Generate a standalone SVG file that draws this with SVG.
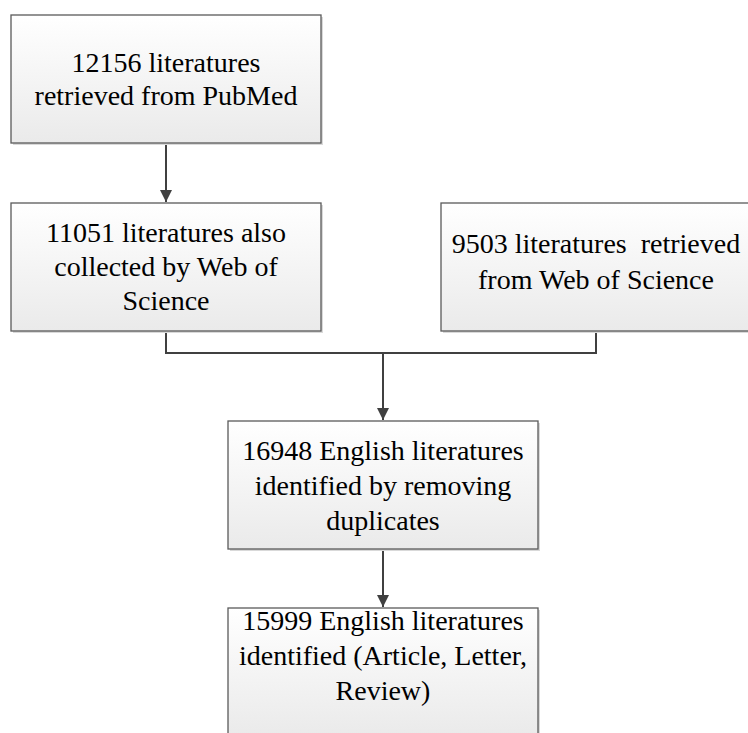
<svg xmlns="http://www.w3.org/2000/svg" width="748" height="733" viewBox="0 0 748 733">
<defs>
<linearGradient id="g" x1="0" y1="0" x2="0" y2="1">
<stop offset="0" stop-color="#ffffff"/>
<stop offset="1" stop-color="#eaeaea"/>
</linearGradient>
<marker id="arr" viewBox="0 0 12 12" markerWidth="12" markerHeight="12" refX="12" refY="6" orient="auto" markerUnits="userSpaceOnUse">
<path d="M0,0 L12,6 L0,12 z" fill="#404040"/>
</marker>
<style>
.shadow{fill:#d9d9d9;}
.box{fill:url(#g);stroke:#5a5a5a;stroke-width:1.3;}
.t{font-family:"Liberation Serif","Times New Roman",serif;font-size:28px;fill:#000;text-anchor:middle;white-space:pre;}
.c{fill:none;stroke:#404040;stroke-width:2;}
</style>
</defs>
<rect width="748" height="733" fill="#ffffff"/>
<g id="connectors">
<path class="c" d="M166,143 L166,202" marker-end="url(#arr)"/>
<path class="c" d="M166,331 L166,353 L596,353 L596,331"/>
<path class="c" d="M383,353 L383,420" marker-end="url(#arr)"/>
<path class="c" d="M383,549 L383,607" marker-end="url(#arr)"/>
</g>
<g id="n1">
<rect class="shadow" x="13" y="17" width="310" height="128"/>
<rect class="box" x="11" y="15" width="310" height="128"/>
<text class="t" x="166" y="72">12156 literatures</text>
<text class="t" x="166" y="105">retrieved from PubMed</text>
</g>
<g id="n2">
<rect class="shadow" x="13" y="205" width="310" height="128"/>
<rect class="box" x="11" y="203" width="310" height="128"/>
<text class="t" x="166" y="242">11051 literatures also</text>
<text class="t" x="166" y="276">collected by Web of</text>
<text class="t" x="166" y="310">Science</text>
</g>
<g id="n3">
<rect class="shadow" x="443" y="205" width="310" height="128"/>
<rect class="box" x="441" y="203" width="310" height="128"/>
<text class="t" x="596" y="253" xml:space="preserve">9503 literatures  retrieved</text>
<text class="t" x="596" y="289">from Web of Science</text>
</g>
<g id="n4">
<rect class="shadow" x="230" y="423" width="310" height="128"/>
<rect class="box" x="228" y="421" width="310" height="128"/>
<text class="t" x="383" y="460">16948 English literatures</text>
<text class="t" x="383" y="495">identified by removing</text>
<text class="t" x="383" y="530">duplicates</text>
</g>
<g id="n5">
<rect class="shadow" x="230" y="610" width="310" height="128"/>
<rect class="box" x="228" y="608" width="310" height="128"/>
<text class="t" x="383" y="630">15999 English literatures</text>
<text class="t" x="383" y="665">identified (Article, Letter,</text>
<text class="t" x="383" y="700">Review)</text>
</g>
</svg>
